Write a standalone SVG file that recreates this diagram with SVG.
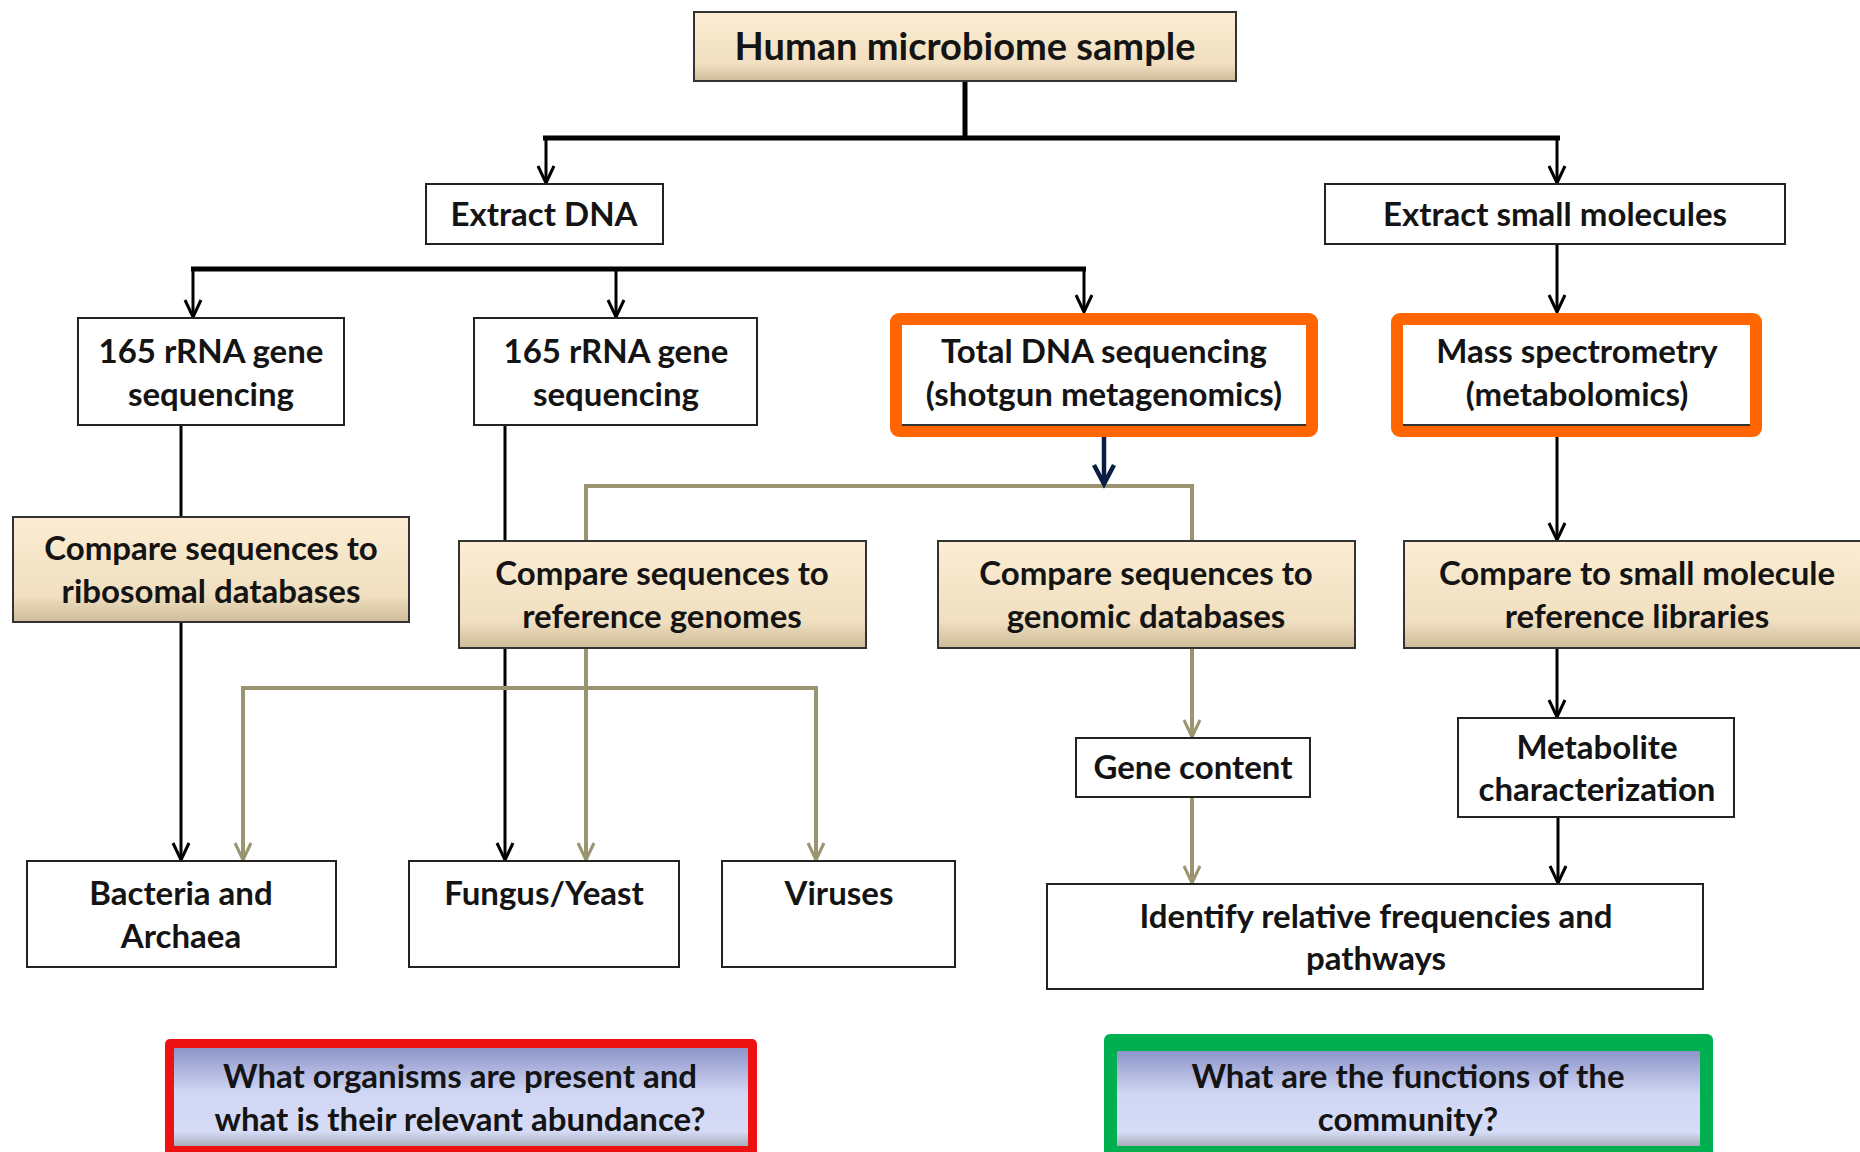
<svg xmlns="http://www.w3.org/2000/svg" width="1860" height="1152" viewBox="0 0 1860 1152">
<defs>
<linearGradient id="beige" x1="0" y1="0" x2="0" y2="1">
<stop offset="0" stop-color="#FCEDD3"/>
<stop offset="0.75" stop-color="#F0DFC0"/>
<stop offset="1" stop-color="#CDBB98"/>
</linearGradient>
<linearGradient id="lav" x1="0" y1="0" x2="0" y2="1">
<stop offset="0" stop-color="#8D94C8"/>
<stop offset="0.45" stop-color="#D0D6F4"/>
<stop offset="0.85" stop-color="#D6DCF6"/>
<stop offset="1" stop-color="#A9ADB9"/>
</linearGradient>
<marker id="ak" markerWidth="20" markerHeight="20" refX="0" refY="0" orient="auto" markerUnits="userSpaceOnUse" overflow="visible">
<path d="M-17,-8 L0,0 L-17,8" fill="none" stroke="#000" stroke-width="3"/>
</marker>
<marker id="ao" markerWidth="20" markerHeight="20" refX="0" refY="0" orient="auto" markerUnits="userSpaceOnUse" overflow="visible">
<path d="M-17,-8 L0,0 L-17,8" fill="none" stroke="#9A9470" stroke-width="3"/>
</marker>
<marker id="an" markerWidth="24" markerHeight="24" refX="0" refY="0" orient="auto" markerUnits="userSpaceOnUse" overflow="visible">
<path d="M-19,-10 L0,0 L-19,10" fill="none" stroke="#0B1F45" stroke-width="4.5"/>
</marker>
</defs>
<style>
text{font-family:Lato,"Liberation Sans",sans-serif;font-weight:700;font-size:33px;fill:#141414;text-anchor:middle}
.t{font-size:38px}
.box{fill:#fff;stroke:#222;stroke-width:2}
.bg{fill:url(#beige);stroke:#333;stroke-width:2}
.k{fill:none;stroke:#000;stroke-width:3}
.kb{fill:none;stroke:#000;stroke-width:5}
.o{fill:none;stroke:#9A9470;stroke-width:4}
.n{fill:none;stroke:#0B1F45;stroke-width:4.5}
.or{fill:#fff;stroke:#FF6600;stroke-width:12}
</style>
<rect width="1860" height="1152" fill="#fff"/>
<g id="connectors">
<path class="kb" d="M965,81 V138 M543,138 H1560"/>
<path class="k" d="M546,138 V183" marker-end="url(#ak)"/>
<path class="k" d="M1557,138 V183" marker-end="url(#ak)"/>
<path class="kb" d="M191,269 H1086"/>
<path class="k" d="M193,269 V317" marker-end="url(#ak)"/>
<path class="k" d="M616,269 V317" marker-end="url(#ak)"/>
<path class="k" d="M1084,269 V312" marker-end="url(#ak)"/>
<path class="k" d="M1557,244 V312" marker-end="url(#ak)"/>
<path class="k" d="M181,425 V517"/>
<path class="k" d="M181,622 V860" marker-end="url(#ak)"/>
<path class="k" d="M505,425 V860" marker-end="url(#ak)"/>
<path class="k" d="M1557,437 V540" marker-end="url(#ak)"/>
<path class="k" d="M1557,648 V717" marker-end="url(#ak)"/>
<path class="k" d="M1558,817 V883" marker-end="url(#ak)"/>
<path class="o" d="M586,541 V486 H1192 V541"/>
<path class="o" d="M586,648 V860" marker-end="url(#ao)"/>
<path class="o" d="M586,688 H243 V860" marker-end="url(#ao)"/>
<path class="o" d="M586,688 H816 V860" marker-end="url(#ao)"/>
<path class="o" d="M1192,648 V737" marker-end="url(#ao)"/>
<path class="o" d="M1192,797 V883" marker-end="url(#ao)"/>
<path class="n" d="M1104,437 V484" marker-end="url(#an)"/>
</g>
<g id="n-sample"><rect class="bg" x="694" y="12" width="542" height="69"/><text class="t" x="965" y="60">Human microbiome sample</text></g>
<g id="n-extract-dna"><rect class="box" x="426" y="184" width="237" height="60"/><text x="544" y="226">Extract DNA</text></g>
<g id="n-extract-sm"><rect class="box" x="1325" y="184" width="460" height="60"/><text x="1555" y="226">Extract small molecules</text></g>
<g id="n-16s-1"><rect class="box" x="78" y="318" width="266" height="107"/><text x="211" y="363">165 rRNA gene</text><text x="211" y="406">sequencing</text></g>
<g id="n-16s-2"><rect class="box" x="474" y="318" width="283" height="107"/><text x="616" y="363">165 rRNA gene</text><text x="616" y="406">sequencing</text></g>
<g id="n-total"><rect class="or" x="896" y="319" width="416" height="112" rx="3"/><line x1="902" y1="425" x2="1306" y2="425" stroke="#333" stroke-width="2"/><text x="1104" y="363">Total DNA sequencing</text><text x="1104" y="406">(shotgun metagenomics)</text></g>
<g id="n-mass"><rect class="or" x="1397" y="319" width="359" height="112" rx="3"/><line x1="1403" y1="425" x2="1750" y2="425" stroke="#333" stroke-width="2"/><text x="1577" y="363">Mass spectrometry</text><text x="1577" y="406">(metabolomics)</text></g>
<g id="n-cmp-ribo"><rect class="bg" x="13" y="517" width="396" height="105"/><text x="211" y="560">Compare sequences to</text><text x="211" y="603">ribosomal databases</text></g>
<g id="n-cmp-ref"><rect class="bg" x="459" y="541" width="407" height="107"/><text x="662" y="585">Compare sequences to</text><text x="662" y="628">reference genomes</text></g>
<g id="n-cmp-gen"><rect class="bg" x="938" y="541" width="417" height="107"/><text x="1146" y="585">Compare sequences to</text><text x="1146" y="628">genomic databases</text></g>
<g id="n-cmp-sm"><rect class="bg" x="1404" y="541" width="466" height="107"/><text x="1637" y="585">Compare to small molecule</text><text x="1637" y="628">reference libraries</text></g>
<g id="n-gene"><rect class="box" x="1076" y="738" width="234" height="59"/><text x="1193" y="779">Gene content</text></g>
<g id="n-metab"><rect class="box" x="1458" y="718" width="276" height="99"/><text x="1597" y="759">Metabolite</text><text x="1597" y="801">characterization</text></g>
<g id="n-identify"><rect class="box" x="1047" y="884" width="656" height="105"/><text x="1376" y="928">Identify relative frequencies and</text><text x="1376" y="970">pathways</text></g>
<g id="n-bact"><rect class="box" x="27" y="861" width="309" height="106"/><text x="181" y="905">Bacteria and</text><text x="181" y="948">Archaea</text></g>
<g id="n-fungus"><rect class="box" x="409" y="861" width="270" height="106"/><text x="544" y="905">Fungus/Yeast</text></g>
<g id="n-virus"><rect class="box" x="722" y="861" width="233" height="106"/><text x="839" y="905">Viruses</text></g>
<g id="n-q1"><rect x="165" y="1039" width="592" height="125" rx="5" fill="#EE1111"/><rect x="174" y="1048" width="574" height="98" fill="url(#lav)"/><text x="460" y="1088">What organisms are present and</text><text x="460" y="1131">what is their relevant abundance?</text></g>
<g id="n-q2"><rect x="1104" y="1034" width="609" height="130" rx="6" fill="#00B050"/><rect x="1117" y="1051" width="583" height="95" fill="url(#lav)"/><text x="1408" y="1088">What are the functions of the</text><text x="1408" y="1131">community?</text></g>
</svg>
